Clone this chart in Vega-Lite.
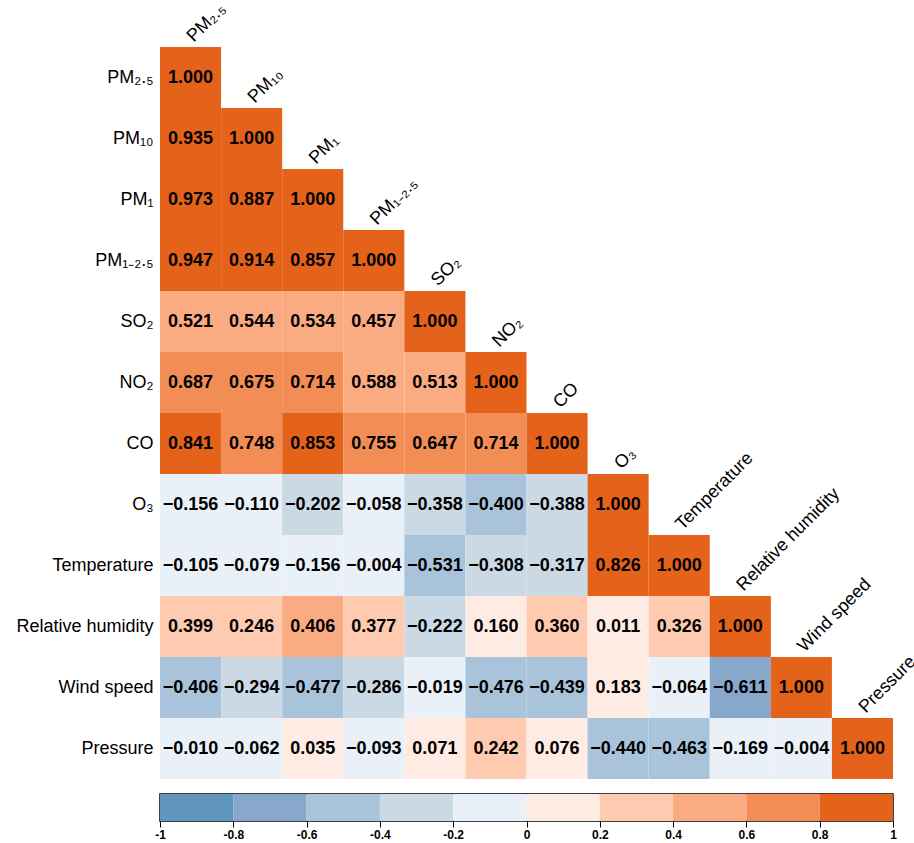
{
  "$schema": "https://vega.github.io/schema/vega-lite/v6.json",
  "background": "white",
  "padding": {"left": 15, "top": 0, "right": 0, "bottom": 0},
  "bounds": "flush",
  "spacing": 15,
  "config": {"font": "Liberation Sans", "view": {"stroke": null}},
  "datasets": {
    "corr": [
      {"r": "PM₂.₅", "c": "PM₂.₅", "v": 1.000},
      {"r": "PM₁₀", "c": "PM₂.₅", "v": 0.935}, {"r": "PM₁₀", "c": "PM₁₀", "v": 1.000},
      {"r": "PM₁", "c": "PM₂.₅", "v": 0.973}, {"r": "PM₁", "c": "PM₁₀", "v": 0.887}, {"r": "PM₁", "c": "PM₁", "v": 1.000},
      {"r": "PM₁₋₂.₅", "c": "PM₂.₅", "v": 0.947}, {"r": "PM₁₋₂.₅", "c": "PM₁₀", "v": 0.914}, {"r": "PM₁₋₂.₅", "c": "PM₁", "v": 0.857}, {"r": "PM₁₋₂.₅", "c": "PM₁₋₂.₅", "v": 1.000},
      {"r": "SO₂", "c": "PM₂.₅", "v": 0.521}, {"r": "SO₂", "c": "PM₁₀", "v": 0.544}, {"r": "SO₂", "c": "PM₁", "v": 0.534}, {"r": "SO₂", "c": "PM₁₋₂.₅", "v": 0.457}, {"r": "SO₂", "c": "SO₂", "v": 1.000},
      {"r": "NO₂", "c": "PM₂.₅", "v": 0.687}, {"r": "NO₂", "c": "PM₁₀", "v": 0.675}, {"r": "NO₂", "c": "PM₁", "v": 0.714}, {"r": "NO₂", "c": "PM₁₋₂.₅", "v": 0.588}, {"r": "NO₂", "c": "SO₂", "v": 0.513}, {"r": "NO₂", "c": "NO₂", "v": 1.000},
      {"r": "CO", "c": "PM₂.₅", "v": 0.841}, {"r": "CO", "c": "PM₁₀", "v": 0.748}, {"r": "CO", "c": "PM₁", "v": 0.853}, {"r": "CO", "c": "PM₁₋₂.₅", "v": 0.755}, {"r": "CO", "c": "SO₂", "v": 0.647}, {"r": "CO", "c": "NO₂", "v": 0.714}, {"r": "CO", "c": "CO", "v": 1.000},
      {"r": "O₃", "c": "PM₂.₅", "v": -0.156}, {"r": "O₃", "c": "PM₁₀", "v": -0.110}, {"r": "O₃", "c": "PM₁", "v": -0.202}, {"r": "O₃", "c": "PM₁₋₂.₅", "v": -0.058}, {"r": "O₃", "c": "SO₂", "v": -0.358}, {"r": "O₃", "c": "NO₂", "v": -0.400}, {"r": "O₃", "c": "CO", "v": -0.388}, {"r": "O₃", "c": "O₃", "v": 1.000},
      {"r": "Temperature", "c": "PM₂.₅", "v": -0.105}, {"r": "Temperature", "c": "PM₁₀", "v": -0.079}, {"r": "Temperature", "c": "PM₁", "v": -0.156}, {"r": "Temperature", "c": "PM₁₋₂.₅", "v": -0.004}, {"r": "Temperature", "c": "SO₂", "v": -0.531}, {"r": "Temperature", "c": "NO₂", "v": -0.308}, {"r": "Temperature", "c": "CO", "v": -0.317}, {"r": "Temperature", "c": "O₃", "v": 0.826}, {"r": "Temperature", "c": "Temperature", "v": 1.000},
      {"r": "Relative humidity", "c": "PM₂.₅", "v": 0.399}, {"r": "Relative humidity", "c": "PM₁₀", "v": 0.246}, {"r": "Relative humidity", "c": "PM₁", "v": 0.406}, {"r": "Relative humidity", "c": "PM₁₋₂.₅", "v": 0.377}, {"r": "Relative humidity", "c": "SO₂", "v": -0.222}, {"r": "Relative humidity", "c": "NO₂", "v": 0.160}, {"r": "Relative humidity", "c": "CO", "v": 0.360}, {"r": "Relative humidity", "c": "O₃", "v": 0.011}, {"r": "Relative humidity", "c": "Temperature", "v": 0.326}, {"r": "Relative humidity", "c": "Relative humidity", "v": 1.000},
      {"r": "Wind speed", "c": "PM₂.₅", "v": -0.406}, {"r": "Wind speed", "c": "PM₁₀", "v": -0.294}, {"r": "Wind speed", "c": "PM₁", "v": -0.477}, {"r": "Wind speed", "c": "PM₁₋₂.₅", "v": -0.286}, {"r": "Wind speed", "c": "SO₂", "v": -0.019}, {"r": "Wind speed", "c": "NO₂", "v": -0.476}, {"r": "Wind speed", "c": "CO", "v": -0.439}, {"r": "Wind speed", "c": "O₃", "v": 0.183}, {"r": "Wind speed", "c": "Temperature", "v": -0.064}, {"r": "Wind speed", "c": "Relative humidity", "v": -0.611}, {"r": "Wind speed", "c": "Wind speed", "v": 1.000},
      {"r": "Pressure", "c": "PM₂.₅", "v": -0.010}, {"r": "Pressure", "c": "PM₁₀", "v": -0.062}, {"r": "Pressure", "c": "PM₁", "v": 0.035}, {"r": "Pressure", "c": "PM₁₋₂.₅", "v": -0.093}, {"r": "Pressure", "c": "SO₂", "v": 0.071}, {"r": "Pressure", "c": "NO₂", "v": 0.242}, {"r": "Pressure", "c": "CO", "v": 0.076}, {"r": "Pressure", "c": "O₃", "v": -0.440}, {"r": "Pressure", "c": "Temperature", "v": -0.463}, {"r": "Pressure", "c": "Relative humidity", "v": -0.169}, {"r": "Pressure", "c": "Wind speed", "v": -0.004}, {"r": "Pressure", "c": "Pressure", "v": 1.000}
    ],
    "bins": [
      {"lo": -1.0, "hi": -0.8, "mid": -0.9}, {"lo": -0.8, "hi": -0.6, "mid": -0.7},
      {"lo": -0.6, "hi": -0.4, "mid": -0.5}, {"lo": -0.4, "hi": -0.2, "mid": -0.3},
      {"lo": -0.2, "hi": 0.0, "mid": -0.1}, {"lo": 0.0, "hi": 0.2, "mid": 0.1},
      {"lo": 0.2, "hi": 0.4, "mid": 0.3}, {"lo": 0.4, "hi": 0.6, "mid": 0.5},
      {"lo": 0.6, "hi": 0.8, "mid": 0.7}, {"lo": 0.8, "hi": 1.0, "mid": 0.9}
    ]
  },
  "vconcat": [
    {
      "width": 733,
      "height": 732,
      "data": {"name": "corr"},
      "encoding": {
        "x": {"field": "c", "type": "nominal", "sort": null,
              "scale": {"domain": ["PM₂.₅", "PM₁₀", "PM₁", "PM₁₋₂.₅", "SO₂", "NO₂", "CO", "O₃", "Temperature", "Relative humidity", "Wind speed", "Pressure"], "paddingInner": 0, "paddingOuter": 0},
              "axis": null},
        "y": {"field": "r", "type": "nominal", "sort": null,
              "scale": {"domain": ["PM₂.₅", "PM₁₀", "PM₁", "PM₁₋₂.₅", "SO₂", "NO₂", "CO", "O₃", "Temperature", "Relative humidity", "Wind speed", "Pressure"], "paddingInner": 0, "paddingOuter": 0},
              "axis": {"title": null, "ticks": false, "domain": false, "labelFontSize": 18, "labelColor": "black", "labelPadding": 7, "labelFont": "Liberation Sans"}}
      },
      "layer": [
        {
          "mark": {"type": "rect"},
          "encoding": {
            "color": {"field": "v", "type": "quantitative",
                      "scale": {"type": "threshold", "domain": [-0.8, -0.6, -0.39999, -0.2, 0, 0.2, 0.4, 0.6, 0.8],
                                "range": ["#6196bf", "#87a8cb", "#a9c4da", "#cbd9e5", "#eaf0f7", "#feebe3", "#fecab0", "#fbab82", "#f28d56", "#e4621a"]},
                      "legend": null}
          }
        },
        {
          "mark": {"type": "text", "fontSize": 18, "fontWeight": "bold", "color": "black", "font": "Liberation Sans"},
          "encoding": {"text": {"field": "v", "type": "quantitative", "format": ".3f"}}
        },
        {
          "transform": [{"filter": "datum.r == datum.c"}],
          "mark": {"type": "text", "fontSize": 18, "color": "black", "font": "Liberation Sans", "angle": -45, "align": "left", "baseline": "bottom", "xOffset": 6, "yOffset": -32},
          "encoding": {"text": {"field": "c", "type": "nominal"}}
        }
      ]
    },
    {
      "width": 733,
      "height": 27,
      "view": {"stroke": "black", "strokeWidth": 1.5},
      "data": {"name": "bins"},
      "mark": {"type": "rect"},
      "encoding": {
        "x": {"field": "lo", "type": "quantitative", "scale": {"domain": [-1, 1], "nice": false, "zero": false},
              "axis": {"title": null, "values": [-1, -0.8, -0.6, -0.4, -0.2, 0, 0.2, 0.4, 0.6, 0.8, 1], "labelExpr": "'' + datum.value",
                       "domain": false, "grid": false, "tickColor": "black", "tickSize": 6, "labelFontSize": 12, "labelFontWeight": "bold", "labelColor": "black", "labelPadding": 2, "labelFlush": false}},
        "x2": {"field": "hi"},
        "color": {"field": "mid", "type": "quantitative",
                  "scale": {"type": "threshold", "domain": [-0.8, -0.6, -0.39999, -0.2, 0, 0.2, 0.4, 0.6, 0.8],
                            "range": ["#6196bf", "#87a8cb", "#a9c4da", "#cbd9e5", "#eaf0f7", "#feebe3", "#fecab0", "#fbab82", "#f28d56", "#e4621a"]},
                  "legend": null}
      }
    }
  ]
}
